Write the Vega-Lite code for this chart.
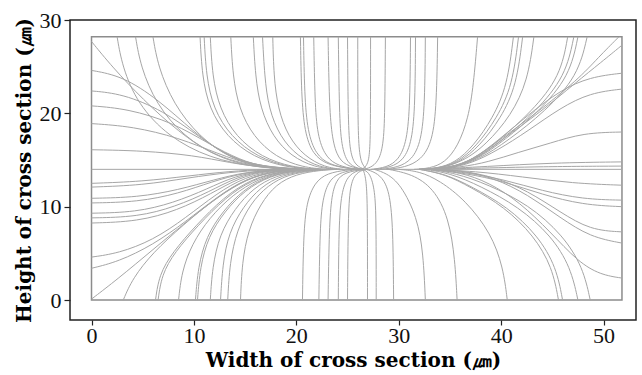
{
  "$schema": "https://vega.github.io/schema/vega-lite/v6.json",
  "width": 566,
  "height": 300,
  "autosize": {"type": "none"},
  "padding": {"left": 70, "top": 20, "right": 6, "bottom": 55},
  "background": "white",
  "config": {
    "view": {"stroke": "#222222", "strokeWidth": 1.5},
    "axis": {
      "grid": false,
      "domain": false,
      "tickColor": "#222222",
      "tickWidth": 1.2,
      "labelFont": "Liberation Serif",
      "labelFontSize": 22,
      "labelColor": "#111111",
      "titleFont": "DejaVu Serif",
      "titleFontWeight": "bold",
      "titleFontSize": 20,
      "titleColor": "#000000"
    }
  },
  "encoding": {
    "x": {
      "field": "x",
      "type": "quantitative",
      "scale": {"domain": [-2.1, 53.17], "nice": false, "zero": false},
      "axis": {"values": [0, 10, 20, 30, 40, 50], "title": "Width of cross section (㎛)", "tickSize": 5, "labelPadding": 0, "titlePadding": 4}
    },
    "y": {
      "field": "y",
      "type": "quantitative",
      "scale": {"domain": [-2.14, 30], "nice": false, "zero": false},
      "axis": {"values": [0, 10, 20, 30], "title": "Height of cross section (㎛)", "tickSize": 6, "labelPadding": 3, "titlePadding": 5}
    }
  },
  "layer": [
    {
      "data": {"values": [{"x": 0, "x2": 51.8, "y": 0, "y2": 28.2}]},
      "mark": {"type": "rect", "fill": null, "stroke": "#8c8c8c", "strokeWidth": 1.5},
      "encoding": {"x2": {"field": "x2"}, "y2": {"field": "y2"}}
    },
    {
      "data": {"values": [
        {"l":1,"x":0,"y":27.7},{"l":1,"x":2,"y":25},{"l":1,"x":5,"y":21.5},{"l":1,"x":8.5,"y":18},{"l":1,"x":12,"y":15.4},{"l":1,"x":15.5,"y":14.3},{"l":1,"x":18.5,"y":14.05},{"l":1,"x":21,"y":14},
        {"l":2,"x":0,"y":24.6},{"l":2,"x":3,"y":24},{"l":2,"x":6.5,"y":21.5},{"l":2,"x":10,"y":18},{"l":2,"x":13,"y":15.5},{"l":2,"x":16,"y":14.3},{"l":2,"x":18.5,"y":14.05},{"l":2,"x":21,"y":14},
        {"l":3,"x":0,"y":22.4},{"l":3,"x":3,"y":22.1},{"l":3,"x":7,"y":20.3},{"l":3,"x":10.5,"y":17.5},{"l":3,"x":13.5,"y":15.3},{"l":3,"x":16.5,"y":14.3},{"l":3,"x":21,"y":14},
        {"l":4,"x":0,"y":20.8},{"l":4,"x":3.5,"y":20.5},{"l":4,"x":8,"y":19},{"l":4,"x":11.5,"y":16.7},{"l":4,"x":14.5,"y":15},{"l":4,"x":17,"y":14.2},{"l":4,"x":21,"y":14},
        {"l":5,"x":0,"y":18.9},{"l":5,"x":4,"y":18.6},{"l":5,"x":8.5,"y":17.4},{"l":5,"x":12.5,"y":15.6},{"l":5,"x":15.5,"y":14.5},{"l":5,"x":18,"y":14.1},{"l":5,"x":21,"y":14},
        {"l":6,"x":0,"y":16.1},{"l":6,"x":5,"y":16},{"l":6,"x":10,"y":15.5},{"l":6,"x":13.5,"y":14.7},{"l":6,"x":17,"y":14.15},{"l":6,"x":21,"y":14},
        {"l":7,"x":0,"y":14},{"l":7,"x":51.8,"y":14},
        {"l":8,"x":2.5,"y":28.2},{"l":8,"x":3,"y":25},{"l":8,"x":4.5,"y":21},{"l":8,"x":7.5,"y":17.5},{"l":8,"x":11.5,"y":15.2},{"l":8,"x":16,"y":14.2},{"l":8,"x":21,"y":14},
        {"l":9,"x":4.3,"y":28.2},{"l":9,"x":4.8,"y":25},{"l":9,"x":6.3,"y":21},{"l":9,"x":9,"y":17.5},{"l":9,"x":12.5,"y":15.2},{"l":9,"x":16.5,"y":14.2},{"l":9,"x":21,"y":14},
        {"l":10,"x":6,"y":28.2},{"l":10,"x":6.5,"y":25},{"l":10,"x":8,"y":21},{"l":10,"x":10.5,"y":17.5},{"l":10,"x":13.5,"y":15.2},{"l":10,"x":17,"y":14.2},{"l":10,"x":21.5,"y":14},
        {"l":11,"x":10.6,"y":28.2},{"l":11,"x":10.8,"y":24},{"l":11,"x":11.5,"y":20.5},{"l":11,"x":13.2,"y":17.5},{"l":11,"x":15.8,"y":15.3},{"l":11,"x":19,"y":14.2},{"l":11,"x":22,"y":14},
        {"l":12,"x":11,"y":28.2},{"l":12,"x":11.2,"y":24},{"l":12,"x":11.9,"y":20.5},{"l":12,"x":13.6,"y":17.5},{"l":12,"x":16.2,"y":15.3},{"l":12,"x":19.3,"y":14.2},{"l":12,"x":22.2,"y":14},
        {"l":13,"x":11.6,"y":28.2},{"l":13,"x":11.8,"y":24},{"l":13,"x":12.5,"y":20.5},{"l":13,"x":14.1,"y":17.5},{"l":13,"x":16.6,"y":15.3},{"l":13,"x":19.6,"y":14.2},{"l":13,"x":22.4,"y":14},
        {"l":14,"x":13.6,"y":28.2},{"l":14,"x":13.8,"y":24},{"l":14,"x":14.4,"y":20.5},{"l":14,"x":15.8,"y":17.5},{"l":14,"x":18,"y":15.3},{"l":14,"x":20.6,"y":14.2},{"l":14,"x":23,"y":14},
        {"l":15,"x":15.8,"y":28.2},{"l":15,"x":16,"y":24},{"l":15,"x":16.5,"y":20.5},{"l":15,"x":17.7,"y":17.5},{"l":15,"x":19.5,"y":15.4},{"l":15,"x":21.8,"y":14.2},{"l":15,"x":24,"y":14},
        {"l":16,"x":16.7,"y":28.2},{"l":16,"x":16.9,"y":24},{"l":16,"x":17.3,"y":20.5},{"l":16,"x":18.4,"y":17.5},{"l":16,"x":20.1,"y":15.4},{"l":16,"x":22.3,"y":14.2},{"l":16,"x":24.3,"y":14},
        {"l":17,"x":17.7,"y":28.2},{"l":17,"x":17.8,"y":24},{"l":17,"x":18.2,"y":20.5},{"l":17,"x":19.2,"y":17.5},{"l":17,"x":20.8,"y":15.4},{"l":17,"x":22.8,"y":14.2},{"l":17,"x":24.6,"y":14},
        {"l":18,"x":20.4,"y":28.2},{"l":18,"x":20.5,"y":22},{"l":18,"x":20.8,"y":18},{"l":18,"x":21.6,"y":15.6},{"l":18,"x":23,"y":14.5},{"l":18,"x":25,"y":14.1},{"l":18,"x":26,"y":14},
        {"l":19,"x":20.7,"y":28.2},{"l":19,"x":20.8,"y":22},{"l":19,"x":21.1,"y":18},{"l":19,"x":21.9,"y":15.6},{"l":19,"x":23.2,"y":14.5},{"l":19,"x":25.1,"y":14.1},{"l":19,"x":26,"y":14},
        {"l":20,"x":21.7,"y":28.2},{"l":20,"x":21.8,"y":22},{"l":20,"x":22,"y":18},{"l":20,"x":22.7,"y":15.6},{"l":20,"x":23.8,"y":14.5},{"l":20,"x":25.3,"y":14.1},{"l":20,"x":26.2,"y":14},
        {"l":21,"x":23.1,"y":28.2},{"l":21,"x":23.2,"y":22},{"l":21,"x":23.4,"y":18},{"l":21,"x":23.9,"y":15.5},{"l":21,"x":24.8,"y":14.4},{"l":21,"x":26.4,"y":14},
        {"l":22,"x":24.1,"y":28.2},{"l":22,"x":24.2,"y":20},{"l":22,"x":24.4,"y":16.5},{"l":22,"x":25,"y":14.6},{"l":22,"x":26,"y":14.1},{"l":22,"x":26.6,"y":14},
        {"l":23,"x":25,"y":28.2},{"l":23,"x":25.05,"y":20},{"l":23,"x":25.2,"y":16},{"l":23,"x":25.7,"y":14.5},{"l":23,"x":26.5,"y":14.05},{"l":23,"x":26.8,"y":14},
        {"l":24,"x":26,"y":28.2},{"l":24,"x":26,"y":20},{"l":24,"x":26.1,"y":16},{"l":24,"x":26.4,"y":14.5},{"l":24,"x":26.9,"y":14},
        {"l":25,"x":27.25,"y":28.2},{"l":25,"x":27.25,"y":20},{"l":25,"x":27.2,"y":16},{"l":25,"x":27,"y":14.6},{"l":25,"x":26.6,"y":14.1},{"l":25,"x":26.3,"y":14},
        {"l":26,"x":28.7,"y":28.2},{"l":26,"x":28.65,"y":20},{"l":26,"x":28.5,"y":16.5},{"l":26,"x":28,"y":14.8},{"l":26,"x":27.2,"y":14.15},{"l":26,"x":26.5,"y":14},
        {"l":27,"x":31.15,"y":28.2},{"l":27,"x":31.1,"y":21},{"l":27,"x":30.8,"y":17},{"l":27,"x":30,"y":15},{"l":27,"x":28.8,"y":14.2},{"l":27,"x":27.3,"y":14},
        {"l":28,"x":31.64,"y":28.2},{"l":28,"x":31.6,"y":21},{"l":28,"x":31.3,"y":17},{"l":28,"x":30.5,"y":15},{"l":28,"x":29.2,"y":14.2},{"l":28,"x":27.6,"y":14},
        {"l":29,"x":32.6,"y":28.2},{"l":29,"x":32.55,"y":21},{"l":29,"x":32.2,"y":17},{"l":29,"x":31.3,"y":15},{"l":29,"x":29.9,"y":14.2},{"l":29,"x":28.2,"y":14},
        {"l":30,"x":33.8,"y":28.2},{"l":30,"x":33.7,"y":21},{"l":30,"x":33.3,"y":17},{"l":30,"x":32.2,"y":15},{"l":30,"x":30.6,"y":14.2},{"l":30,"x":28.8,"y":14},
        {"l":31,"x":37.7,"y":28.2},{"l":31,"x":37.3,"y":23},{"l":31,"x":36.8,"y":19.5},{"l":31,"x":35.8,"y":16.5},{"l":31,"x":34.5,"y":14.7},{"l":31,"x":33,"y":14.1},{"l":31,"x":31.5,"y":14},
        {"l":32,"x":41.2,"y":28.2},{"l":32,"x":40.6,"y":23},{"l":32,"x":39.2,"y":19.5},{"l":32,"x":37.3,"y":16.5},{"l":32,"x":35.5,"y":14.7},{"l":32,"x":33.7,"y":14.1},{"l":32,"x":32,"y":14},
        {"l":33,"x":41.7,"y":28.2},{"l":33,"x":41.1,"y":23},{"l":33,"x":39.6,"y":19.5},{"l":33,"x":37.6,"y":16.5},{"l":33,"x":35.7,"y":14.7},{"l":33,"x":33.8,"y":14.1},{"l":33,"x":32,"y":14},
        {"l":34,"x":42.1,"y":28.2},{"l":34,"x":41.5,"y":23},{"l":34,"x":40,"y":19.5},{"l":34,"x":37.9,"y":16.5},{"l":34,"x":35.9,"y":14.7},{"l":34,"x":33.9,"y":14.1},{"l":34,"x":32,"y":14},
        {"l":35,"x":43.2,"y":28.2},{"l":35,"x":42.6,"y":23.5},{"l":35,"x":41,"y":19.8},{"l":35,"x":38.5,"y":16.6},{"l":35,"x":36.2,"y":14.8},{"l":35,"x":34,"y":14.1},{"l":35,"x":32,"y":14},
        {"l":36,"x":46.5,"y":28.2},{"l":36,"x":45.8,"y":24},{"l":36,"x":43,"y":20.2},{"l":36,"x":39.8,"y":17.1},{"l":36,"x":37.3,"y":15},{"l":36,"x":34.8,"y":14.15},{"l":36,"x":32.5,"y":14},
        {"l":37,"x":47.1,"y":28.2},{"l":37,"x":46.3,"y":24},{"l":37,"x":43.4,"y":20.2},{"l":37,"x":40.1,"y":17.1},{"l":37,"x":37.5,"y":15},{"l":37,"x":34.9,"y":14.15},{"l":37,"x":32.5,"y":14},
        {"l":38,"x":47.5,"y":28.2},{"l":38,"x":46.7,"y":24},{"l":38,"x":43.7,"y":20.2},{"l":38,"x":40.3,"y":17.1},{"l":38,"x":37.6,"y":15},{"l":38,"x":35,"y":14.15},{"l":38,"x":32.6,"y":14},
        {"l":39,"x":48.4,"y":28.2},{"l":39,"x":47.5,"y":24},{"l":39,"x":44.3,"y":20.2},{"l":39,"x":40.7,"y":17.1},{"l":39,"x":37.8,"y":15},{"l":39,"x":35.1,"y":14.15},{"l":39,"x":32.7,"y":14},
        {"l":40,"x":51.5,"y":28.2},{"l":40,"x":49.5,"y":26},{"l":40,"x":47.5,"y":23.6},{"l":40,"x":43.4,"y":20},{"l":40,"x":39.8,"y":17.1},{"l":40,"x":37.2,"y":15},{"l":40,"x":35,"y":14.15},{"l":40,"x":33,"y":14},
        {"l":41,"x":51.8,"y":27.3},{"l":41,"x":49.8,"y":25.5},{"l":41,"x":47.3,"y":23.3},{"l":41,"x":43.8,"y":20.1},{"l":41,"x":40.1,"y":17.2},{"l":41,"x":37.4,"y":15},{"l":41,"x":35.1,"y":14.15},{"l":41,"x":33,"y":14},
        {"l":42,"x":51.8,"y":24.3},{"l":42,"x":48.7,"y":23.9},{"l":42,"x":45.8,"y":22.5},{"l":42,"x":42.6,"y":19.8},{"l":42,"x":39.6,"y":17},{"l":42,"x":37.2,"y":15},{"l":42,"x":35,"y":14.1},{"l":42,"x":33,"y":14},
        {"l":43,"x":51.8,"y":22.6},{"l":43,"x":48.7,"y":22.2},{"l":43,"x":45.8,"y":20.6},{"l":43,"x":42.6,"y":18.1},{"l":43,"x":39.6,"y":16},{"l":43,"x":37.2,"y":14.7},{"l":43,"x":35,"y":14.1},{"l":43,"x":33,"y":14},
        {"l":44,"x":51.8,"y":18},{"l":44,"x":48,"y":17.9},{"l":44,"x":44.8,"y":16.8},{"l":44,"x":41.6,"y":15.8},{"l":44,"x":38.8,"y":14.8},{"l":44,"x":36,"y":14.2},{"l":44,"x":33,"y":14},
        {"l":45,"x":51.8,"y":14.8},{"l":45,"x":45,"y":14.7},{"l":45,"x":38.5,"y":14.3},{"l":45,"x":33,"y":14},
        {"l":46,"x":51.8,"y":14.35},{"l":46,"x":44,"y":14.3},{"l":46,"x":37,"y":14.1},{"l":46,"x":32,"y":14},
        {"l":47,"x":0,"y":12.5},{"l":47,"x":5,"y":12.7},{"l":47,"x":9.5,"y":13.3},{"l":47,"x":13.5,"y":13.8},{"l":47,"x":17,"y":14},{"l":47,"x":20,"y":14},
        {"l":48,"x":0,"y":12.1},{"l":48,"x":5,"y":12.3},{"l":48,"x":9.5,"y":13.1},{"l":48,"x":13.5,"y":13.7},{"l":48,"x":17,"y":13.95},{"l":48,"x":20,"y":14},
        {"l":49,"x":0,"y":10.9},{"l":49,"x":4.5,"y":11},{"l":49,"x":8.5,"y":11.8},{"l":49,"x":12,"y":12.9},{"l":49,"x":15,"y":13.7},{"l":49,"x":18,"y":13.95},{"l":49,"x":21,"y":14},
        {"l":50,"x":0,"y":10.4},{"l":50,"x":4.5,"y":10.5},{"l":50,"x":8.5,"y":11.4},{"l":50,"x":11.8,"y":12.7},{"l":50,"x":14.8,"y":13.6},{"l":50,"x":17.5,"y":13.95},{"l":50,"x":21,"y":14},
        {"l":51,"x":0,"y":9.3},{"l":51,"x":4.3,"y":9.4},{"l":51,"x":8,"y":10.4},{"l":51,"x":11.3,"y":11.9},{"l":51,"x":14,"y":13.3},{"l":51,"x":17,"y":13.9},{"l":51,"x":21,"y":14},
        {"l":52,"x":0,"y":8.8},{"l":52,"x":4.5,"y":8.9},{"l":52,"x":8.2,"y":10},{"l":52,"x":11.5,"y":11.6},{"l":52,"x":14.2,"y":13.2},{"l":52,"x":17,"y":13.9},{"l":52,"x":21,"y":14},
        {"l":53,"x":0,"y":8.25},{"l":53,"x":4.5,"y":8.4},{"l":53,"x":8.4,"y":9.6},{"l":53,"x":11.7,"y":11.4},{"l":53,"x":14.4,"y":13.1},{"l":53,"x":17.2,"y":13.9},{"l":53,"x":21,"y":14},
        {"l":54,"x":0,"y":4.6},{"l":54,"x":2.6,"y":5},{"l":54,"x":6,"y":6.4},{"l":54,"x":9.2,"y":8.8},{"l":54,"x":12.2,"y":11.4},{"l":54,"x":15,"y":13.2},{"l":54,"x":18,"y":13.9},{"l":54,"x":21,"y":14},
        {"l":55,"x":0,"y":3.4},{"l":55,"x":2.6,"y":4.1},{"l":55,"x":6,"y":5.9},{"l":55,"x":9.2,"y":8.4},{"l":55,"x":12.2,"y":11},{"l":55,"x":15,"y":13},{"l":55,"x":18,"y":13.85},{"l":55,"x":21,"y":14},
        {"l":56,"x":0,"y":0.1},{"l":56,"x":2.5,"y":2.2},{"l":56,"x":6,"y":5.4},{"l":56,"x":9.5,"y":8.6},{"l":56,"x":12.4,"y":11.1},{"l":56,"x":15.2,"y":13},{"l":56,"x":18,"y":13.85},{"l":56,"x":21,"y":14},
        {"l":57,"x":3.1,"y":0},{"l":57,"x":4,"y":2.3},{"l":57,"x":6,"y":5.1},{"l":57,"x":8.9,"y":8},{"l":57,"x":12.2,"y":11},{"l":57,"x":15.1,"y":13},{"l":57,"x":18,"y":13.85},{"l":57,"x":21,"y":14},
        {"l":58,"x":6.25,"y":0},{"l":58,"x":6.6,"y":2.7},{"l":58,"x":7.9,"y":5.1},{"l":58,"x":10.2,"y":8},{"l":58,"x":12.9,"y":11},{"l":58,"x":15.5,"y":12.9},{"l":58,"x":18.3,"y":13.8},{"l":58,"x":21.5,"y":14},
        {"l":59,"x":6.5,"y":0},{"l":59,"x":6.85,"y":2.7},{"l":59,"x":8.1,"y":5.1},{"l":59,"x":10.4,"y":8},{"l":59,"x":13.1,"y":11},{"l":59,"x":15.7,"y":12.9},{"l":59,"x":18.5,"y":13.8},{"l":59,"x":21.5,"y":14},
        {"l":60,"x":8.5,"y":0},{"l":60,"x":8.8,"y":3},{"l":60,"x":9.8,"y":6},{"l":60,"x":11.5,"y":8.8},{"l":60,"x":13.8,"y":11.3},{"l":60,"x":16.3,"y":13},{"l":60,"x":19,"y":13.85},{"l":60,"x":22,"y":14},
        {"l":61,"x":10.15,"y":0},{"l":61,"x":10.4,"y":3.5},{"l":61,"x":11.2,"y":6.8},{"l":61,"x":12.8,"y":9.5},{"l":61,"x":14.8,"y":11.8},{"l":61,"x":17.2,"y":13.3},{"l":61,"x":20,"y":13.9},{"l":61,"x":22.5,"y":14},
        {"l":62,"x":10.35,"y":0},{"l":62,"x":10.6,"y":3.5},{"l":62,"x":11.4,"y":6.8},{"l":62,"x":13,"y":9.5},{"l":62,"x":15,"y":11.8},{"l":62,"x":17.4,"y":13.3},{"l":62,"x":20.1,"y":13.9},{"l":62,"x":22.6,"y":14},
        {"l":63,"x":11.6,"y":0},{"l":63,"x":11.8,"y":3.5},{"l":63,"x":12.5,"y":7},{"l":63,"x":14,"y":9.8},{"l":63,"x":15.8,"y":12},{"l":63,"x":18,"y":13.35},{"l":63,"x":20.7,"y":13.9},{"l":63,"x":23,"y":14},
        {"l":64,"x":12.6,"y":0},{"l":64,"x":12.8,"y":3.8},{"l":64,"x":13.4,"y":7.2},{"l":64,"x":14.8,"y":10},{"l":64,"x":16.5,"y":12.1},{"l":64,"x":18.6,"y":13.4},{"l":64,"x":21.2,"y":13.9},{"l":64,"x":23.3,"y":14},
        {"l":65,"x":13.3,"y":0},{"l":65,"x":13.5,"y":4},{"l":65,"x":14.2,"y":7.5},{"l":65,"x":15.5,"y":10.3},{"l":65,"x":17.2,"y":12.3},{"l":65,"x":19.3,"y":13.5},{"l":65,"x":21.8,"y":13.9},{"l":65,"x":23.6,"y":14},
        {"l":66,"x":14.55,"y":0},{"l":66,"x":14.7,"y":4},{"l":66,"x":15.3,"y":7.5},{"l":66,"x":16.5,"y":10.3},{"l":66,"x":18,"y":12.4},{"l":66,"x":20,"y":13.5},{"l":66,"x":22.3,"y":13.9},{"l":66,"x":24,"y":14},
        {"l":67,"x":20.6,"y":0},{"l":67,"x":20.7,"y":7},{"l":67,"x":21,"y":10.5},{"l":67,"x":21.8,"y":12.6},{"l":67,"x":23,"y":13.6},{"l":67,"x":25,"y":13.95},{"l":67,"x":26,"y":14},
        {"l":68,"x":22.2,"y":0},{"l":68,"x":22.3,"y":7},{"l":68,"x":22.5,"y":10.5},{"l":68,"x":23.1,"y":12.7},{"l":68,"x":24.1,"y":13.6},{"l":68,"x":25.6,"y":13.95},{"l":68,"x":26.4,"y":14},
        {"l":69,"x":23.1,"y":0},{"l":69,"x":23.2,"y":7},{"l":69,"x":23.4,"y":11},{"l":69,"x":23.9,"y":12.9},{"l":69,"x":24.8,"y":13.7},{"l":69,"x":26.6,"y":14},
        {"l":70,"x":24.1,"y":0},{"l":70,"x":24.15,"y":8},{"l":70,"x":24.4,"y":11.5},{"l":70,"x":25,"y":13.3},{"l":70,"x":26,"y":13.9},{"l":70,"x":26.8,"y":14},
        {"l":71,"x":25,"y":0},{"l":71,"x":25.05,"y":8},{"l":71,"x":25.2,"y":12},{"l":71,"x":25.7,"y":13.5},{"l":71,"x":26.5,"y":13.95},{"l":71,"x":27,"y":14},
        {"l":72,"x":26.95,"y":0},{"l":72,"x":26.95,"y":8},{"l":72,"x":26.9,"y":12},{"l":72,"x":26.7,"y":13.5},{"l":72,"x":26.5,"y":14},
        {"l":73,"x":27.8,"y":0},{"l":73,"x":27.8,"y":8},{"l":73,"x":27.7,"y":11.5},{"l":73,"x":27.3,"y":13.3},{"l":73,"x":26.8,"y":13.9},{"l":73,"x":26.3,"y":14},
        {"l":74,"x":29.5,"y":0},{"l":74,"x":29.45,"y":7},{"l":74,"x":29.2,"y":11},{"l":74,"x":28.6,"y":12.9},{"l":74,"x":27.7,"y":13.7},{"l":74,"x":26.8,"y":14},
        {"l":75,"x":32.6,"y":0},{"l":75,"x":32.4,"y":5},{"l":75,"x":31.8,"y":8.9},{"l":75,"x":30.2,"y":12.4},{"l":75,"x":28.8,"y":13.6},{"l":75,"x":27.6,"y":14},
        {"l":76,"x":35.7,"y":0},{"l":76,"x":35.5,"y":4.3},{"l":76,"x":34.9,"y":8.8},{"l":76,"x":33.4,"y":12},{"l":76,"x":31.3,"y":13.5},{"l":76,"x":29,"y":14},
        {"l":77,"x":40.6,"y":0},{"l":77,"x":40.2,"y":3.5},{"l":77,"x":39,"y":7.2},{"l":77,"x":36.5,"y":10.7},{"l":77,"x":34,"y":12.8},{"l":77,"x":32,"y":13.8},{"l":77,"x":30,"y":14},
        {"l":78,"x":45.6,"y":0},{"l":78,"x":45,"y":3.5},{"l":78,"x":43.2,"y":6.9},{"l":78,"x":40.3,"y":10},{"l":78,"x":37,"y":12.1},{"l":78,"x":34.5,"y":13.5},{"l":78,"x":32,"y":14},
        {"l":79,"x":46,"y":0},{"l":79,"x":45.4,"y":3.5},{"l":79,"x":43.6,"y":6.9},{"l":79,"x":40.6,"y":10},{"l":79,"x":37.2,"y":12.1},{"l":79,"x":34.6,"y":13.5},{"l":79,"x":32,"y":14},
        {"l":80,"x":47.5,"y":0},{"l":80,"x":46.8,"y":3.5},{"l":80,"x":44.9,"y":6.9},{"l":80,"x":41.7,"y":10},{"l":80,"x":38,"y":12.2},{"l":80,"x":35,"y":13.6},{"l":80,"x":32.5,"y":14},
        {"l":81,"x":48.7,"y":0},{"l":81,"x":48,"y":3.5},{"l":81,"x":46,"y":7},{"l":81,"x":42.7,"y":10.2},{"l":81,"x":38.7,"y":12.4},{"l":81,"x":35.5,"y":13.6},{"l":81,"x":33,"y":14},
        {"l":82,"x":51.8,"y":2.35},{"l":82,"x":49.7,"y":2.7},{"l":82,"x":47.5,"y":4.1},{"l":82,"x":44.8,"y":7.3},{"l":82,"x":41.8,"y":10.5},{"l":82,"x":38.8,"y":12.6},{"l":82,"x":36,"y":13.7},{"l":82,"x":33,"y":14},
        {"l":83,"x":51.8,"y":6.1},{"l":83,"x":48.7,"y":6.75},{"l":83,"x":45.8,"y":8.8},{"l":83,"x":42.6,"y":11.3},{"l":83,"x":39.3,"y":13.1},{"l":83,"x":36,"y":13.9},{"l":83,"x":33,"y":14},
        {"l":84,"x":51.8,"y":7.3},{"l":84,"x":48.7,"y":7.5},{"l":84,"x":45.8,"y":9.4},{"l":84,"x":42.6,"y":11.7},{"l":84,"x":39.3,"y":13.2},{"l":84,"x":36,"y":13.9},{"l":84,"x":33,"y":14},
        {"l":85,"x":51.8,"y":10},{"l":85,"x":48,"y":10.2},{"l":85,"x":44,"y":11.3},{"l":85,"x":40.3,"y":12.7},{"l":85,"x":36.5,"y":13.6},{"l":85,"x":33,"y":14},
        {"l":86,"x":51.8,"y":10.7},{"l":86,"x":48,"y":10.8},{"l":86,"x":44,"y":11.7},{"l":86,"x":40.3,"y":12.9},{"l":86,"x":36.5,"y":13.7},{"l":86,"x":33,"y":14},
        {"l":87,"x":51.8,"y":12.3},{"l":87,"x":47,"y":12.5},{"l":87,"x":42,"y":13.2},{"l":87,"x":37.5,"y":13.8},{"l":87,"x":33,"y":14}
      ]},
      "mark": {"type": "line", "interpolate": "basis", "stroke": "#a6a6a6", "strokeWidth": 1},
      "encoding": {
        "detail": {"field": "l", "type": "nominal"},
        "order": {"value": null}
      }
    }
  ]
}
